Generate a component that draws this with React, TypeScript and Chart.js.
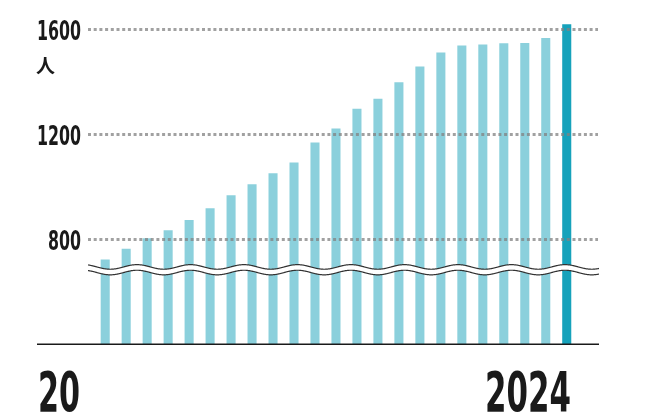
import React, { useEffect, useRef } from "react";
import { Chart, registerables } from "chart.js";

Chart.register(...registerables);

const years = [2002, 2003, 2004, 2005, 2006, 2007, 2008, 2009, 2010, 2011, 2012, 2013, 2014, 2015, 2016, 2017, 2018, 2019, 2020, 2021, 2022, 2023, 2024];
const values = [722, 763, 803, 833, 872, 917, 966, 1008, 1050, 1091, 1167, 1221, 1296, 1334, 1397, 1457, 1510, 1537, 1541, 1545, 1546, 1565, 1618];
const yTickValues = [800, 1200, 1600];
const firstLabel = "20";
const lastLabel = "2024";
const unitLabel = "人";
const breakValue = 684;

const LIGHT = "#8bd0dc";
const DARK = "#16a2bb";
const NARROW = "'Liberation Sans Narrow', 'DejaVu Sans Condensed', sans-serif";

const decorPlugin = {
  id: "decor",
  afterDatasetsDraw(chart: any) {
    const { ctx, chartArea, scales } = chart;
    const yc = scales.y.getPixelForValue(breakValue);
    const x0 = chartArea.left;
    const x1 = chartArea.right + 1;
    const period = 53.5;
    const amp = 2.3;
    const gap = 2.8;
    const wave = (x: number) => -amp * Math.cos((2 * Math.PI * (x - 137)) / period);
    ctx.save();
    ctx.beginPath();
    for (let x = x0; x <= x1; x += 0.5) {
      const y = yc - gap + wave(x);
      if (x === x0) ctx.moveTo(x, y);
      else ctx.lineTo(x, y);
    }
    for (let x = x1; x >= x0; x -= 0.5) {
      ctx.lineTo(x, yc + gap + wave(x));
    }
    ctx.closePath();
    ctx.fillStyle = "#ffffff";
    ctx.fill();
    ctx.strokeStyle = "#333333";
    ctx.lineWidth = 1.2;
    for (const off of [-gap, gap]) {
      ctx.beginPath();
      for (let x = x0; x <= x1; x += 0.5) {
        const y = yc + off + wave(x);
        if (x === x0) ctx.moveTo(x, y);
        else ctx.lineTo(x, y);
      }
      ctx.stroke();
    }
    ctx.restore();
  },
  afterDraw(chart: any) {
    const { ctx, chartArea, scales } = chart;
    ctx.save();
    // baseline
    ctx.strokeStyle = "#1a1a1a";
    ctx.lineWidth = 1.6;
    ctx.beginPath();
    ctx.moveTo(37, chartArea.bottom);
    ctx.lineTo(chartArea.right + 1, chartArea.bottom);
    ctx.stroke();
    ctx.fillStyle = "#1a1a1a";
    // y tick labels
    ctx.font = `bold 26px ${NARROW}`;
    ctx.textAlign = "right";
    ctx.textBaseline = "alphabetic";
    for (const v of yTickValues) {
      const y = scales.y.getPixelForValue(v);
      const txt = String(v);
      ctx.fillText(txt, chartArea.left - 7, y + 10.5, txt.length * 11);
    }
    // unit
    ctx.font = "bold 19px 'Noto Sans CJK JP', sans-serif";
    ctx.textAlign = "left";
    ctx.textBaseline = "middle";
    const y1600 = scales.y.getPixelForValue(1600);
    ctx.fillText(unitLabel, 36, y1600 + 37);
    // x labels
    ctx.font = `bold 55px ${NARROW}`;
    ctx.textBaseline = "alphabetic";
    ctx.textAlign = "left";
    ctx.fillText(firstLabel, 38, 410.5, 42);
    ctx.textAlign = "right";
    const lastX = scales.x.getPixelForValue(years[years.length - 1]) + 4.3;
    ctx.fillText(lastLabel, lastX, 410.5, 86);
    ctx.restore();
  },
};

export default function App() {
  const ref = useRef<HTMLCanvasElement | null>(null);
  useEffect(() => {
    if (!ref.current) return;
    const chart = new Chart(ref.current, {
      type: "bar",
      data: {
        datasets: [
          {
            data: years.map((yr, i) => ({ x: yr, y: values[i] })),
            backgroundColor: years.map((_, i) => (i === years.length - 1 ? DARK : LIGHT)),
            barThickness: 8.4,
            borderWidth: 0,
          },
        ],
      },
      options: {
        animation: false,
        responsive: true,
        maintainAspectRatio: false,
        layout: { padding: { top: 3, right: 72, bottom: 67.7, left: 0 } },
        plugins: { legend: { display: false }, tooltip: { enabled: false } },
        scales: {
          x: {
            type: "linear",
            offset: false,
            min: 2001.18,
            max: 2025.49,
            display: false,
          },
          y: {
            min: 400,
            max: 1700,
            afterFit: (s: any) => {
              s.width = 88;
            },
            afterBuildTicks: (s: any) => {
              s.ticks = yTickValues.map((v) => ({ value: v }));
            },
            border: { display: false, dash: [3, 2.7] },
            grid: {
              z: 1,
              color: "rgba(130,130,130,0.75)",
              lineWidth: 3,
              drawTicks: false,
            },
            ticks: { display: false },
          },
        },
      },
      plugins: [decorPlugin],
    });
    return () => chart.destroy();
  }, []);
  return (
    <div style={{ position: "fixed", left: 0, top: 0, width: 670, height: 412, background: "#fff" }}>
      <canvas ref={ref} />
    </div>
  );
}
